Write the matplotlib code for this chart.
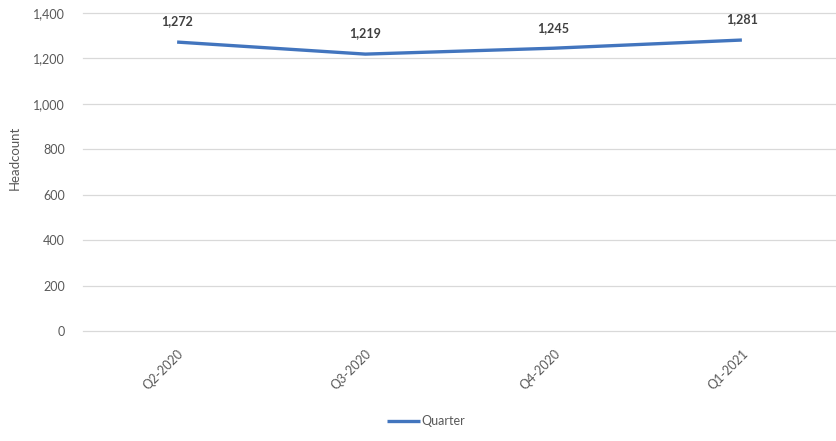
import matplotlib
matplotlib.use("Agg")
import matplotlib.pyplot as plt
from matplotlib.ticker import FuncFormatter

quarters = ["Q2-2020", "Q3-2020", "Q4-2020", "Q1-2021"]
headcount = [1272, 1219, 1245, 1281]
y_ticks = [0, 200, 400, 600, 800, 1000, 1200, 1400]

plt.rcParams["font.family"] = ["Lato", "DejaVu Sans"]

fig = plt.figure(figsize=(8.36, 4.41), dpi=100)
ax = fig.add_axes([83 / 836, 1 - 331 / 441, 1 - 83 / 836, 318 / 441])

x = list(range(len(quarters)))
line, = ax.plot(x, headcount, color="#4275BE", linewidth=2.4,
                solid_capstyle="butt", label="Quarter", zorder=3)

for xi, v in zip(x, headcount):
    ax.annotate(f"{v:,}", (xi, v), xytext=(0, 10.5), textcoords="offset points",
                ha="center", va="bottom", fontsize=9, fontweight="bold",
                color="#404040")

ax.set_xlim(-0.5, len(quarters) - 0.5)
ax.set_ylim(0, 1400)
ax.set_yticks(y_ticks)
ax.yaxis.set_major_formatter(FuncFormatter(lambda v, p: f"{int(v):,}"))
ax.set_xticks(x)
ax.set_xticklabels(quarters, rotation=45, ha="right", va="top",
                   rotation_mode="anchor")

ax.grid(axis="y", color="#d9d9d9", linewidth=0.9)
for gl in ax.get_ygridlines():
    gl.set_clip_on(False)
ax.set_axisbelow(True)
for s in ax.spines.values():
    s.set_visible(False)
ax.tick_params(axis="both", length=0, labelsize=9, labelcolor="#595959")
ax.tick_params(axis="y", pad=13)
ax.tick_params(axis="x", pad=12)

ax.set_ylabel("Headcount", fontsize=9.5, color="#595959")
ax.yaxis.set_label_coords(-0.083, 0.545)

fig.legend(handles=[line], loc="center", bbox_to_anchor=(426 / 836, 1 - 421 / 441),
           frameon=False, fontsize=9, labelcolor="#595959",
           handlelength=2.6, handletextpad=0.1)

fig.savefig("out.png", dpi=100, facecolor="white")
